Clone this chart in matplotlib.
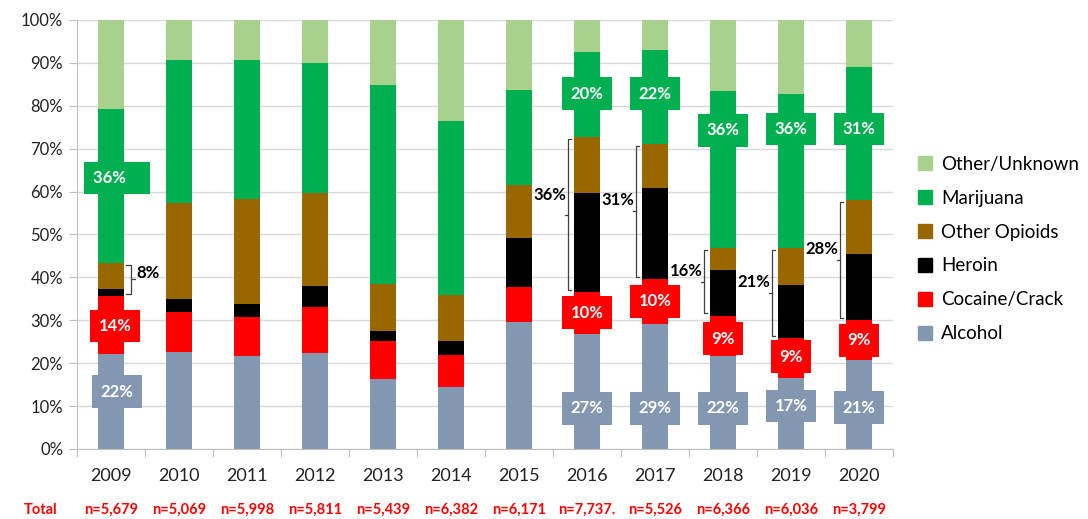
import matplotlib.pyplot as plt
from matplotlib.lines import Line2D
from matplotlib.patches import Patch
import numpy as np

years = ['2009', '2010', '2011', '2012', '2013', '2014', '2015', '2016', '2017', '2018', '2019', '2020']
totals = ['n=5,679', 'n=5,069', 'n=5,998', 'n=5,811', 'n=5,439', 'n=6,382', 'n=6,171',
          'n=7,737.', 'n=5,526', 'n=6,366', 'n=6,036', 'n=3,799']

# shares in percent, bottom to top
alcohol = [22.1, 22.5, 21.7, 22.4, 16.4, 14.5, 29.7, 26.7, 29.2, 21.6, 16.6, 20.8]
cocaine = [13.6, 9.4, 9.1, 10.6, 8.8, 7.4, 8.1, 9.8, 10.5, 9.5, 9.2, 9.3]
heroin = [1.7, 3.1, 2.9, 4.9, 2.4, 3.3, 11.4, 23.2, 21.2, 10.6, 12.4, 15.3]
opioids = [6.0, 22.3, 24.5, 21.8, 10.8, 10.7, 12.3, 13.0, 10.3, 5.2, 8.7, 12.6]
marijuana = [35.9, 33.3, 32.5, 30.2, 46.4, 40.5, 22.1, 19.8, 21.8, 36.5, 35.9, 31.0]
other = [20.7, 9.4, 9.3, 10.1, 15.2, 23.6, 16.4, 7.5, 7.0, 16.6, 17.2, 11.0]

series = [('Alcohol', alcohol, '#8497B0'),
          ('Cocaine/Crack', cocaine, '#FF0000'),
          ('Heroin', heroin, '#000000'),
          ('Other Opioids', opioids, '#996600'),
          ('Marijuana', marijuana, '#00B050'),
          ('Other/Unknown', other, '#A9D18E')]

# boxed labels: year index, text, y position (%)
box_idx = [0, 7, 8, 9, 10, 11]
mar_text = ['36%', '20%', '22%', '36%', '36%', '31%']
mar_y = [63.2, 82.8, 82.8, 74.3, 74.6, 74.6]
coc_text = ['14%', '10%', '10%', '9%', '9%', '9%']
coc_y = [28.7, 31.8, 34.4, 25.7, 21.5, 25.3]
alc_text = ['22%', '27%', '29%', '22%', '17%', '21%']
alc_y = [13.4, 9.5, 9.5, 9.5, 10.0, 9.6]

# brackets around heroin + other opioids
br_idx = [0, 7, 8, 9, 10, 11]
br_text = ['8%', '36%', '31%', '16%', '21%', '28%']

x = np.arange(len(years))
fig = plt.figure(figsize=(10.88, 5.19), dpi=100)
ax = fig.add_axes([0.0708, 0.1349, 0.75, 0.8266])
plt.rcParams['font.family'] = ['Lato', 'DejaVu Sans']

bottom = np.zeros(len(years))
for name, vals, col in series:
    ax.bar(x, vals, width=0.38, bottom=bottom, color=col, zorder=2)
    bottom += np.array(vals)

ax.set_xlim(-0.5, len(years) - 0.5)
ax.set_ylim(0, 100)
ax.set_yticks(np.arange(0, 101, 10))
ax.set_yticklabels([f'{v}%' for v in range(0, 101, 10)], fontsize=12, family='Lato', color='#222222')
ax.yaxis.grid(True, color='#d9d9d9', lw=1, zorder=0)
ax.tick_params(axis='y', length=6, color='#bfbfbf', pad=4)
ax.set_xticks(np.arange(-0.5, len(years)), minor=False)
ax.set_xticklabels([])
ax.set_xticks(x, minor=True)
ax.set_xticklabels(years, minor=True, fontsize=13, family='Lato', color='#222222')
ax.tick_params(axis='x', which='major', length=6, color='#bfbfbf')
ax.tick_params(axis='x', which='minor', length=0, pad=14)
for s in ['top', 'right']:
    ax.spines[s].set_visible(False)
ax.spines['left'].set_color('#bfbfbf')
ax.spines['bottom'].set_color('#bfbfbf')

def boxed(i, txt, y, col, ha='center', dx=0.0):
    ax.text(i + dx, y, txt, ha=ha, va='center', color='white', fontsize=12,
            fontweight='bold', family='Lato', zorder=4,
            bbox=dict(boxstyle='square,pad=0.5', fc=col, ec='none'))

for k, i in enumerate(box_idx):
    if i == 0:
        boxed(i, mar_text[k] + '    ', mar_y[k], '#00B050', dx=0.09)
        boxed(i, coc_text[k], coc_y[k], '#FF0000', dx=0.06)
        boxed(i, alc_text[k], alc_y[k], '#8497B0', dx=0.09)
    else:
        boxed(i, mar_text[k], mar_y[k], '#00B050')
        boxed(i, coc_text[k], coc_y[k], '#FF0000')
        boxed(i, alc_text[k], alc_y[k], '#8497B0')

lo = np.array(alcohol) + np.array(cocaine)
hi = lo + np.array(heroin) + np.array(opioids)
for k, i in enumerate(br_idx):
    y0, y1 = lo[i] + 0.5, hi[i] - 0.5
    mid = (y0 + y1) / 2
    if i == 0:
        xv, xe, xm = i + 0.29, i + 0.22, i + 0.35
        ax.text(i + 0.37, mid + 1.5, br_text[k], ha='left', va='center', fontsize=12,
                fontweight='bold', family='Lato', color='black', zorder=5)
    else:
        xv, xe, xm = i - 0.28, i - 0.23, i - 0.33
        dy = 4.5 if i == 7 else 2.5
        ax.text(i - 0.30, mid + dy, br_text[k], ha='right', va='center', fontsize=12,
                fontweight='bold', family='Lato', color='black', zorder=5)
    ax.add_line(Line2D([xe, xv, xv, xe], [y0, y0, y1, y1], color='#404040', lw=0.9, zorder=5))
    ax.add_line(Line2D([xv, xm], [mid, mid], color='#404040', lw=0.9, zorder=5))

# totals row under the axis
tr = ax.get_xaxis_transform()
for i, t in enumerate(totals):
    ax.text(i, -0.142, t, transform=tr, ha='center', va='center', color='#FF0000',
            fontsize=10.5, fontweight='bold', family='Lato')
ax.text(-1.03, -0.142, 'Total', transform=tr, ha='center', va='center', color='#FF0000',
        fontsize=10.5, fontweight='bold', family='Lato', clip_on=False)

handles = [Patch(color=col, label=name) for name, vals, col in series[::-1]]
fig.legend(handles=handles, loc='center left', bbox_to_anchor=(0.828, 1 - 249 / 519),
           frameon=False, handlelength=0.75, handleheight=0.75,
           handletextpad=0.5, labelspacing=0.9, prop={'family': 'Lato', 'size': 13.5})

fig.savefig('out.png', dpi=100)
